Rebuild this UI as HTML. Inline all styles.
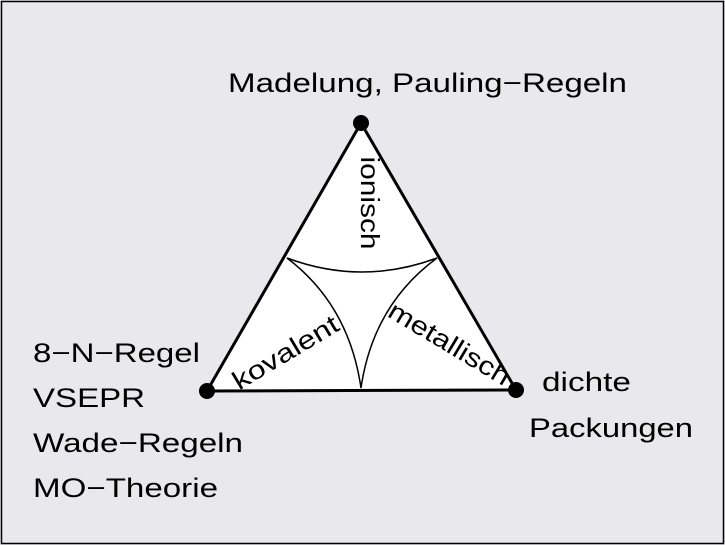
<!DOCTYPE html>
<html><head><meta charset="utf-8"><style>
html,body{margin:0;padding:0;background:#e9e8ec;}
svg{display:block}
text{font-family:"Liberation Sans",sans-serif;fill:#000}
</style></head><body>
<svg width="725" height="545" viewBox="0 0 725 545">
<rect x="1.5" y="1.5" width="722" height="542" fill="#e9e8ec" stroke="#000" stroke-width="1.5"/>
<polygon points="361,123 207,391 516,390" fill="#fff" stroke="#000" stroke-width="3" stroke-linejoin="round"/>
<path d="M287,258 Q362,286 437,258 Q373,305 361,388 Q349,305 287,258 Z" fill="none" stroke="#000" stroke-width="1.5"/>
<circle cx="361" cy="123" r="8"/>
<circle cx="207" cy="391" r="8"/>
<circle cx="516" cy="390" r="8"/>
<text x="0" y="0" font-size="26" text-anchor="middle" textLength="93" lengthAdjust="spacingAndGlyphs" transform="translate(361,203) rotate(90)">ionisch</text>
<text x="0" y="0" font-size="26" text-anchor="middle" textLength="119" lengthAdjust="spacingAndGlyphs" transform="translate(290,360) rotate(-31)">kovalent</text>
<text x="0" y="0" font-size="26" text-anchor="middle" textLength="137" lengthAdjust="spacingAndGlyphs" transform="translate(445,351) rotate(31)">metallisch</text>
<text x="228" y="92" font-size="27" textLength="399" lengthAdjust="spacingAndGlyphs">Madelung, Pauling−Regeln</text>
<text x="33" y="362" font-size="27" textLength="167" lengthAdjust="spacingAndGlyphs">8−N−Regel</text>
<text x="33" y="407" font-size="27" textLength="112" lengthAdjust="spacingAndGlyphs">VSEPR</text>
<text x="33" y="452" font-size="27" textLength="210" lengthAdjust="spacingAndGlyphs">Wade−Regeln</text>
<text x="33" y="497" font-size="27" textLength="185" lengthAdjust="spacingAndGlyphs">MO−Theorie</text>
<text x="542" y="391" font-size="27" textLength="89" lengthAdjust="spacingAndGlyphs">dichte</text>
<text x="529" y="437" font-size="27" textLength="164" lengthAdjust="spacingAndGlyphs">Packungen</text>
</svg>
</body></html>
